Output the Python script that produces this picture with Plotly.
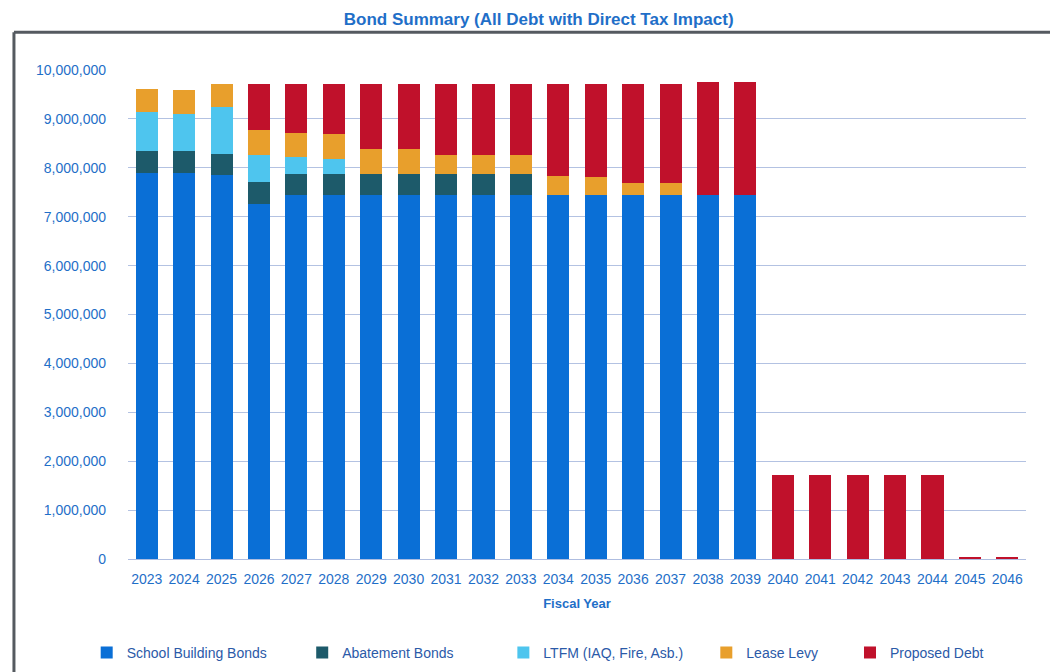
import plotly.graph_objects as go

years = [str(y) for y in range(2023, 2047)]

school_building = [7900000, 7900000, 7860000, 7270000, 7450000, 7450000, 7450000, 7450000,
                   7450000, 7450000, 7450000, 7450000, 7450000, 7450000, 7450000, 7450000,
                   7450000, 0, 0, 0, 0, 0, 0, 0]
abatement = [450000, 450000, 430000, 430000, 430000, 430000, 430000, 430000,
             430000, 430000, 430000, 0, 0, 0, 0, 0,
             0, 0, 0, 0, 0, 0, 0, 0]
ltfm = [790000, 750000, 960000, 570000, 350000, 310000, 0, 0,
        0, 0, 0, 0, 0, 0, 0, 0,
        0, 0, 0, 0, 0, 0, 0, 0]
lease_levy = [470000, 490000, 460000, 510000, 490000, 510000, 510000, 510000,
              390000, 390000, 390000, 390000, 370000, 230000, 230000, 0,
              0, 0, 0, 0, 0, 0, 0, 0]
proposed = [0, 0, 0, 940000, 1000000, 1020000, 1330000, 1330000,
            1450000, 1450000, 1450000, 1880000, 1900000, 2040000, 2040000, 2310000,
            2310000, 1720000, 1720000, 1720000, 1720000, 1720000, 30000, 30000]

series_names = ["School Building Bonds", "Abatement Bonds", "LTFM (IAQ, Fire, Asb.)",
                "Lease Levy", "Proposed Debt"]
series_values = [school_building, abatement, ltfm, lease_levy, proposed]
colors = ["#0a6fd6", "#1d5a6a", "#4ec5ee", "#e89f2c", "#c0112b"]

y_ticks = list(range(0, 10000001, 1000000))

BLUE = "#1f6fc8"
FONT = "Liberation Sans, Arial, sans-serif"

fig = go.Figure()
for i, (name, vals, col) in enumerate(zip(series_names, series_values, colors)):
    lg = "legend" if i == 0 else f"legend{i+1}"
    fig.add_trace(go.Bar(
        x=years, y=vals, name=name, marker=dict(color=col, line=dict(width=0)),
        legend=lg,
    ))

# legend anchor positions in paper units
legend_x = [-0.046, 0.194, 0.418, 0.644, 0.804]
layout_legends = {}
for i, lx in enumerate(legend_x):
    key = "legend" if i == 0 else f"legend{i+1}"
    layout_legends[key] = dict(
        x=lx, y=-0.192, xanchor="left", yanchor="middle", orientation="h",
        font=dict(family=FONT, size=14, color="#2b5aa8"),
        bgcolor="rgba(0,0,0,0)", itemwidth=30, tracegroupgap=0,
    )

fig.update_layout(
    width=1050, height=672,
    margin=dict(l=128, r=24, t=70, b=113, autoexpand=False),
    paper_bgcolor="white", plot_bgcolor="white",
    barmode="stack", bargap=0.41,
    title=dict(text="<b>Bond Summary (All Debt with Direct Tax Impact)</b>",
               x=0.513, xanchor="center", y=0.972, yanchor="middle",
               font=dict(family=FONT, size=17, color=BLUE)),
    xaxis=dict(
        type="category", tickfont=dict(family=FONT, size=14, color=BLUE),
        showgrid=False, showline=True, linecolor="#aebde0", linewidth=1,
        ticks="", ticklabelstandoff=7,
        title=dict(text="<b>Fiscal Year</b>", standoff=13,
                   font=dict(family=FONT, size=13, color=BLUE)),
    ),
    yaxis=dict(
        range=[0, 10000000], tickvals=y_ticks, tickformat=",d",
        tickfont=dict(family=FONT, size=14, color=BLUE),
        showgrid=True, gridcolor="#b3c2e2", gridwidth=1,
        zeroline=False, ticks="", ticklabelstandoff=21,
    ),
    showlegend=True,
    **layout_legends,
    shapes=[
        dict(type="line", xref="paper", yref="paper", x0=-0.127, x1=1.1,
             y0=1.077, y1=1.077, line=dict(color="#555a60", width=3)),
        dict(type="line", xref="paper", yref="paper", x0=-0.127, x1=-0.127,
             y0=1.077, y1=-0.3, line=dict(color="#555a60", width=3)),
    ],
)

fig.write_html("out.html")
